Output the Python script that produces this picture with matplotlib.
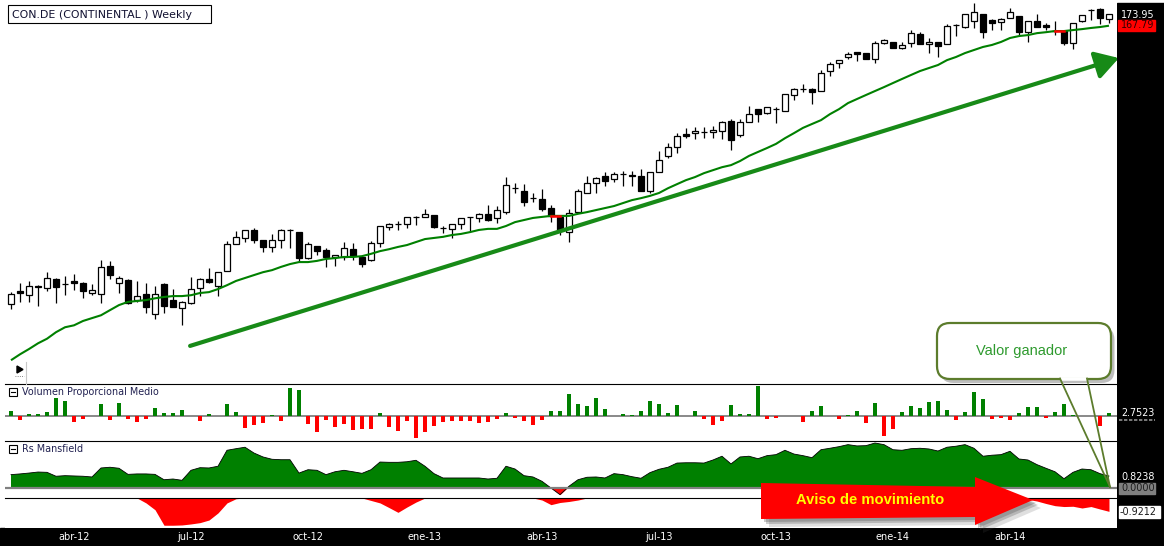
import numpy as np
import pandas as pd
import matplotlib
matplotlib.use('Agg')
import matplotlib.pyplot as plt
from matplotlib.patches import Rectangle, FancyBboxPatch, Polygon
from matplotlib.lines import Line2D
from matplotlib.transforms import Affine2D, blended_transform_factory
from matplotlib.ticker import NullLocator

# ---------------- data (weekly CON.DE) ----------------
first_week = '2012-02-13'

opens = [69.6, 72.6, 71.6, 73.7, 73.3, 75.4, 74.2, 74.9, 74.4, 72.1,
         71.8, 78.5, 74.4, 75.1, 70.5, 71.8, 67.4, 74.2, 70.5, 68.8,
         69.8, 73.3, 75.4, 73.7, 77.3, 84.2, 85.8, 88.0, 85.2, 83.4,
         85.2, 88.0, 87.4, 80.5, 83.6, 82.6, 80.8, 80.8, 82.8, 80.8,
         80.0, 84.4, 88.8, 89.7, 89.7, 91.7, 91.7, 92.3, 88.6, 88.3,
         89.7, 91.7, 91.4, 92.6, 91.4, 93.1, 100.4, 99.5, 97.3, 97.0,
         94.3, 91.7, 87.4, 93.1, 98.9, 102.1, 104.3, 103.4, 105.0, 104.7,
         104.3, 99.5, 105.7, 111.2, 114.4, 119.1, 119.5, 119.9, 119.9, 120.3,
         124.1, 118.8, 123.7, 128.9, 127.3, 128.9, 128.1, 134.8, 137.3, 137.3,
         136.5, 145.4, 149.1, 152.0, 154.4, 153.9, 151.0, 158.9, 159.4, 156.4,
         158.9, 163.4, 158.4, 159.4, 158.4, 168.2, 167.1, 170.3, 174.1, 170.9,
         169.8, 171.9, 173.0, 164.4, 170.3, 168.2, 165.0, 165.0, 158.9, 170.3,
         176.3, 176.9, 171.4]

highs = [72.3, 74.4, 74.9, 73.9, 77.0, 75.5, 76.1, 76.5, 74.6, 74.2,
         80.0, 79.8, 76.1, 75.4, 74.9, 74.4, 73.7, 74.4, 73.0, 70.2,
         75.8, 75.5, 78.0, 77.1, 84.9, 87.7, 88.1, 88.6, 85.3, 86.9,
         88.3, 88.4, 87.5, 84.7, 83.7, 83.1, 81.4, 84.7, 84.4, 80.9,
         84.9, 89.2, 90.0, 90.5, 91.8, 91.9, 94.0, 92.4, 89.1, 89.8,
         91.5, 91.8, 92.7, 95.2, 94.9, 104.0, 102.1, 101.7, 98.9, 100.1,
         95.2, 91.8, 94.0, 100.1, 104.3, 104.0, 105.7, 105.7, 106.0, 106.0,
         106.6, 105.8, 112.9, 115.8, 119.5, 121.5, 121.8, 121.8, 122.2, 124.1,
         124.9, 124.9, 130.2, 129.0, 129.9, 129.8, 135.3, 137.8, 139.5, 137.8,
         145.9, 149.6, 150.6, 154.4, 154.5, 154.0, 159.9, 160.9, 159.5, 159.4,
         165.5, 164.4, 161.4, 159.5, 168.7, 168.7, 174.2, 180.3, 174.2, 171.4,
         171.9, 177.4, 173.1, 170.4, 174.1, 169.2, 170.3, 165.1, 169.3, 173.7,
         176.9, 177.4, 174.1]

lows = [68.5, 70.1, 70.1, 69.2, 72.6, 69.8, 71.6, 72.8, 70.9, 71.6,
        69.8, 75.4, 72.1, 69.6, 70.1, 67.7, 66.4, 67.7, 68.9, 65.1,
        69.6, 71.4, 74.5, 71.4, 77.2, 84.1, 84.7, 84.4, 82.1, 82.1,
        83.1, 83.1, 79.5, 80.4, 81.3, 78.3, 78.5, 80.0, 80.0, 78.3,
        79.8, 83.4, 88.0, 88.0, 88.6, 89.4, 91.6, 88.6, 87.2, 85.8,
        88.3, 87.7, 90.2, 90.5, 90.0, 92.6, 98.9, 94.9, 96.1, 93.4,
        90.2, 86.6, 84.7, 93.0, 98.8, 98.9, 101.1, 102.4, 101.1, 101.1,
        99.4, 98.9, 105.6, 110.5, 112.2, 117.6, 117.3, 117.6, 117.6, 117.3,
        113.3, 118.0, 123.6, 123.7, 126.9, 123.3, 128.0, 132.7, 136.1, 131.0,
        136.4, 143.1, 146.8, 151.0, 150.0, 150.9, 149.1, 158.4, 156.3, 155.9,
        156.9, 158.3, 153.9, 152.0, 158.3, 162.4, 166.6, 166.6, 161.4, 165.5,
        165.5, 171.8, 162.9, 159.4, 167.0, 165.5, 162.9, 157.9, 155.9, 169.8,
        170.9, 168.7, 169.2]

closes = [71.8, 72.1, 73.7, 73.5, 75.6, 73.5, 74.1, 74.4, 72.6, 72.8,
          78.3, 76.3, 75.6, 69.8, 71.4, 69.0, 71.8, 69.2, 69.0, 70.1,
          73.0, 75.4, 74.6, 77.0, 84.2, 86.1, 88.0, 85.2, 83.4, 85.2,
          88.0, 88.1, 80.5, 84.2, 82.3, 80.8, 81.3, 83.1, 81.0, 79.0,
          84.4, 89.1, 89.7, 89.8, 91.7, 91.8, 92.6, 88.8, 88.5, 89.7,
          91.4, 91.7, 92.6, 90.8, 93.7, 101.4, 100.5, 96.1, 97.2, 94.0,
          92.0, 88.0, 92.9, 99.5, 102.1, 103.7, 102.7, 105.0, 105.1, 104.3,
          99.5, 105.7, 109.8, 114.4, 118.4, 118.4, 120.3, 120.0, 120.7, 123.7,
          116.9, 123.7, 126.9, 126.9, 129.8, 129.0, 135.2, 137.3, 137.4, 136.1,
          144.5, 148.6, 150.5, 153.4, 153.4, 151.0, 158.9, 160.4, 156.4, 157.9,
          163.9, 158.4, 159.4, 157.4, 167.6, 168.1, 174.1, 175.2, 164.4, 169.2,
          171.4, 175.2, 164.4, 170.3, 167.1, 167.1, 164.9, 158.9, 169.2, 173.6,
          176.2, 171.9, 173.95]

ma30 = [58.3, 59.4, 60.4, 61.5, 62.4, 63.7, 64.7, 65.1, 66.0, 66.6,
        67.2, 68.3, 69.4, 70.1, 70.3, 70.5, 70.9, 71.2, 71.4, 71.4,
        71.6, 72.1, 72.3, 73.0, 73.9, 74.9, 75.6, 76.3, 77.0, 77.5,
        78.3, 79.0, 79.5, 79.5, 79.8, 80.3, 80.5, 80.8, 80.8, 81.0,
        81.6, 82.3, 82.8, 83.4, 83.9, 84.7, 85.5, 85.8, 86.1, 86.6,
        86.9, 87.4, 88.0, 88.3, 88.3, 89.1, 90.2, 90.8, 91.4, 91.7,
        92.0, 92.0, 92.0, 92.6, 93.1, 93.7, 94.3, 94.9, 95.8, 96.7,
        97.3, 98.0, 98.9, 100.4, 101.7, 103.0, 104.0, 105.3, 106.3, 107.3,
        108.0, 109.4, 111.2, 112.6, 114.0, 115.5, 117.6, 119.5, 121.5, 123.0,
        124.5, 126.9, 128.9, 131.4, 133.1, 134.8, 136.5, 138.2, 140.0, 141.8,
        143.6, 145.4, 146.8, 148.2, 150.5, 152.0, 153.9, 155.4, 156.9, 157.9,
        159.4, 161.4, 162.4, 162.9, 163.9, 164.4, 165.0, 165.0, 165.5, 166.0,
        166.6, 167.1, 167.79]

ma_signal_weeks = [60, 116]   # weeks where the average is drawn red

volumen_prop = [0.57, -0.33, 0.23, 0.23, 0.43, 1.83, 1.57, -0.53, -0.23, 0.0,
                1.23, -0.33, 1.33, -0.23, -0.53, -0.23, 0.83, 0.33, 0.33, 0.63,
                0.0, -0.43, 0.23, 0.0, 1.23, 0.43, -1.13, -0.83, -0.63, 0.13,
                -0.43, 2.83, 2.67, -0.73, -1.53, -0.33, -1.03, -0.73, -1.33, -1.23,
                -1.23, 0.33, -1.03, -1.47, -0.47, -2.13, -1.57, -0.97, -0.57, -0.50,
                -0.47, -0.47, -0.67, -0.57, -0.23, 0.37, -0.13, -0.47, -0.83, -0.37,
                0.50, 0.50, 2.27, 1.20, 1.00, 1.83, 0.70, 0.0, 0.20, 0.10,
                0.50, 1.50, 1.20, 0.30, 1.10, 0.0, 0.50, -0.23, -0.83, -0.47,
                1.10, 0.20, 0.20, 3.00, -0.23, -0.13, 0.0, 0.0, -0.57, 0.50,
                1.00, 0.0, -0.23, 0.10, 0.50, -0.67, 1.30, -1.97, -1.23, 0.40,
                1.00, 0.80, 1.40, 1.50, 0.60, -0.37, 0.40, 2.40, 1.70, -0.23,
                -0.13, -0.37, 0.30, 0.90, 0.90, -0.13, 0.43, 1.20, 0.10, 0.0,
                0.0, -0.95, 0.30]

rs_mansfield = [0.92, 0.97, 1.03, 1.10, 1.08, 0.81, 0.85, 0.83, 0.81, 0.76,
                1.38, 1.43, 1.36, 0.94, 0.97, 0.97, 0.94, 0.57, 0.62, 0.53,
                1.22, 1.40, 1.38, 1.50, 2.60, 2.71, 2.81, 2.41, 2.14, 1.98,
                1.95, 1.95, 1.03, 1.26, 1.22, 0.92, 1.12, 1.22, 1.12, 1.01,
                1.26, 1.79, 1.77, 1.77, 1.81, 1.91, 1.50, 0.99, 0.69, 0.69,
                0.69, 0.69, 0.69, 0.62, 0.67, 1.50, 1.31, 0.85, 0.76, 0.46,
                0.00, -0.46, 0.12, 0.57, 0.74, 0.76, 0.69, 0.99, 0.92, 0.78,
                0.67, 1.06, 1.29, 1.43, 1.72, 1.74, 1.74, 1.72, 1.93, 2.19,
                1.66, 2.14, 2.19, 2.02, 2.23, 2.30, 2.60, 2.34, 2.23, 2.09,
                2.64, 2.74, 2.85, 2.99, 2.90, 2.92, 3.10, 2.99, 2.64, 2.60,
                2.71, 2.74, 2.69, 2.55, 2.81, 2.88, 2.99, 2.74, 2.19, 2.26,
                2.30, 2.53, 2.00, 1.93, 1.61, 1.36, 1.12, 0.64, 1.08, 1.31,
                1.26, 0.99, 0.8238]

rs_lower = [0, 0, 0, 0, 0, 0, 0, 0, 0, 0,
            0, 0, 0, 0, 0, -0.34, -0.81, -1.88, -1.88, -1.86,
            -1.79, -1.70, -1.52, -1.03, -0.34, -0.05, 0, 0, 0, 0,
            0, 0, 0, 0, 0, 0, 0, 0, 0, 0,
            -0.17, -0.34, -0.66, -0.99, -0.62, -0.28, 0, 0, 0, 0,
            0, 0, 0, 0, 0, 0, 0, 0, 0, -0.14,
            -0.46, -0.31, -0.24, -0.14, 0, 0, 0, 0, 0, 0,
            0, 0, 0, 0, 0, 0, 0, 0, 0, 0,
            0, 0, 0, 0, 0, 0, 0, 0, 0, 0,
            0, 0, 0, 0, 0, 0, 0, 0, 0, 0,
            0, 0, 0, 0, 0, 0, 0, 0, 0, 0,
            0, 0, -0.03, -0.10, -0.21, -0.38, -0.53, -0.59, -0.57, -0.69,
            -0.59, -0.76, -0.9212]

tick_months = ['2012-04-01', '2012-07-01', '2012-10-01', '2013-01-01', '2013-04-01',
               '2013-07-01', '2013-10-01', '2014-01-01', '2014-04-01']
tick_labels = ['abr-12', 'jul-12', 'oct-12', 'ene-13', 'abr-13',
               'jul-13', 'oct-13', 'ene-14', 'abr-14']

last_price_label = '173.95'
last_ma_label = '167.79'
vol_label = '2.7523'
rs_label = '0.8238'
zero_label = '0.0000'
rs_low_label = '-0.9212'

# ---------------- figure ----------------
W, H, DPI = 1164, 546, 100
fig = plt.figure(figsize=(W / DPI, H / DPI), dpi=DPI)
fig.patch.set_facecolor('white')
PX = Affine2D().scale(1, -1).translate(0, H)   # figure pixels, y from top

n = len(closes)
idx = np.arange(n)
dates = pd.date_range(first_week, periods=n, freq='W-MON')
XL = (-0.667, n - 0.11)
PL, PR = 5, 1117


def add_ax(y0, y1):
    ax = fig.add_axes([PL / W, 1 - y1 / H, (PR - PL) / W, (y1 - y0) / H])
    ax.set_facecolor('white')
    for s in ax.spines.values():
        s.set_visible(False)
    ax.set_xlim(*XL)
    return ax


def clean(ax):
    ax.tick_params(which='both', left=False, labelleft=False,
                   bottom=False, labelbottom=False)
    ax.xaxis.set_major_locator(NullLocator())
    ax.xaxis.set_minor_locator(NullLocator())
    ax.yaxis.set_major_locator(NullLocator())
    ax.yaxis.set_minor_locator(NullLocator())


def px_line(xs, ys, **kw):
    fig.add_artist(Line2D(xs, ys, transform=PX, **kw))


# black frame strips
fig.add_artist(Rectangle((PR, 3), W - PR, H - 3, transform=PX, color='black', zorder=-1))
fig.add_artist(Rectangle((0, 528), W, H - 528, transform=PX, color='black', zorder=-1))

# ---- price panel ----
ax_p = add_ax(0, 384)
ax_p.set_yscale('log')
ax_p.set_ylim(54.08, 182.0)
o = np.array(opens); c = np.array(closes); h = np.array(highs); l = np.array(lows)
up = c >= o
lo = np.minimum(o, c); hi = np.maximum(o, c)
ax_p.vlines(idx, l, h, color='black', lw=0.9, zorder=2)
ax_p.bar(idx, hi - lo, bottom=lo, width=0.72,
         color=np.where(up, 'white', 'black'), edgecolor='black', linewidth=0.9, zorder=3)
ax_p.plot(idx, ma30, color='#008000', lw=1.5, zorder=4, solid_capstyle='butt')
for i in ma_signal_weeks:
    ax_p.plot([i, i + 1], [ma30[i], ma30[i + 1]], color='#ff0000', lw=1.8, zorder=5)
ann = ax_p.annotate('', xy=(n + 0.1, 151.5), xytext=(19.9, 61.0),
                    arrowprops=dict(arrowstyle='-|>,head_length=0.7,head_width=0.42',
                                    mutation_scale=20, color='#178a17', lw=3.0,
                                    shrinkA=0, shrinkB=0),
                    annotation_clip=False, zorder=6)
ann.arrow_patch.set_clip_on(False)
clean(ax_p)

# ---- volume panel ----
ax_v = add_ax(384, 441)
ax_v.set_ylim(-2.47, 3.23)
vol = np.array(volumen_prop)
ax_v.bar(idx, vol, width=0.5, color=np.where(vol >= 0, '#008000', '#ff0000'), lw=0, zorder=2)
ax_v.axhline(0, color='#808080', lw=1.3, zorder=1)
clean(ax_v)

# ---- RS Mansfield panel ----
ax_r = add_ax(441, 498)
ax_r.set_ylim(-0.69, 3.24)
rs = np.array(rs_mansfield)
ax_r.fill_between(idx, rs, 0, where=rs >= 0, interpolate=True, color='#008000', lw=0, zorder=2)
ax_r.fill_between(idx, rs, 0, where=rs <= 0, interpolate=True, color='#ff0000', lw=0, zorder=2)
ax_r.plot(idx, rs, color='black', lw=0.6, zorder=3)
ax_r.axhline(0, color='#808080', lw=1.6, zorder=4)
clean(ax_r)

# ---- lower RS panel ----
ax_l = add_ax(498, 528)
ax_l.set_ylim(-2.07, 0)
ax_l.fill_between(idx, rs_lower, 0, color='#ff0000', lw=0, zorder=2)
clean(ax_l)

# separators
for yy in (384, 441, 498):
    px_line([PL, PR], [yy, yy], color='black', lw=0.8, zorder=5)

# x tick labels
trans = blended_transform_factory(ax_l.transData, PX)
for m, lab in zip(tick_months, tick_labels):
    ms = pd.Timestamp(m)
    pos = int(np.argmax((dates + pd.Timedelta(days=4)) >= ms))
    ax_l.text(pos, 537, lab, transform=trans, ha='center', va='center',
              color='white', fontsize=7, family='DejaVu Sans', clip_on=False)

# title box
fig.add_artist(Rectangle((8, 5), 203, 18, transform=PX, facecolor='white',
                         edgecolor='black', lw=0.8, zorder=6))
fig.text(12, 14.5, 'CON.DE (CONTINENTAL ) Weekly', transform=PX, ha='left', va='center',
         fontsize=7.9, color='#101030', family='DejaVu Sans', zorder=7)

# small play marker
fig.add_artist(Polygon([(17, 366), (17, 373), (23, 369.5)], closed=True, transform=PX,
                       color='black', zorder=6))
px_line([15, 24], [375.5, 375.5], color='#606060', lw=0.6, ls=':', zorder=6)
px_line([26, 26], [362, 384], color='#c8c8c8', lw=0.8, zorder=6)

# panel headers
for ytop, name in ((387.5, 'Volumen Proporcional Medio'), (445, 'Rs Mansfield')):
    fig.add_artist(Rectangle((8.5, ytop), 8, 8, transform=PX, facecolor='white',
                             edgecolor='black', lw=0.8, zorder=6))
    px_line([10.5, 14.5], [ytop + 4, ytop + 4], color='black', lw=0.8, zorder=7)
    fig.text(22.5, ytop + 4.2, name, transform=PX, ha='left', va='center',
             fontsize=6.9, color='#202050', family='DejaVu Sans', zorder=7)

# right side value labels
lab_kw = dict(transform=PX, ha='left', va='center', fontsize=6.9, family='DejaVu Sans', zorder=8)
fig.text(1121, 14.5, last_price_label, color='white', **lab_kw)
fig.add_artist(Rectangle((1118, 20), 37, 11, transform=PX, color='#ff0000', zorder=7))
fig.text(1121, 25.5, last_ma_label, color='#300000', **lab_kw)
fig.text(1121, 413, vol_label, color='white', **lab_kw)
px_line([1119, 1155], [420, 420], color='#909090', lw=1.2, ls=(0, (2, 1)), zorder=7)
fig.text(1121, 476.5, rs_label, color='white', **lab_kw)
fig.add_artist(Rectangle((1119, 483), 36, 10.5, transform=PX, color='#7f7f7f', zorder=7))
fig.text(1121, 488.3, zero_label, color='#1a1a1a', **lab_kw)
fig.add_artist(Rectangle((1119, 506), 41, 11.5, transform=PX, color='white', zorder=7))
fig.text(1120, 511.8, rs_low_label, color='#1a1a1a', **lab_kw)

# "Valor ganador" callout
fig.add_artist(FancyBboxPatch((940.5, 327), 174, 56, boxstyle='round,pad=0,rounding_size=13',
                              transform=PX, facecolor='#8a8a8a', edgecolor='none',
                              alpha=0.55, zorder=9))
fig.add_artist(FancyBboxPatch((937, 323), 174, 56, boxstyle='round,pad=0,rounding_size=13',
                              transform=PX, facecolor='white', edgecolor='#5c7c2c',
                              lw=1.6, zorder=10))
px_line([1061.5, 1085.5], [379, 379], color='white', lw=2.6, zorder=11)
px_line([1060, 1110], [378.5, 487], color='#5c7c2c', lw=1.3, zorder=11)
px_line([1087, 1110], [378.5, 487], color='#5c7c2c', lw=1.3, zorder=11)
fig.text(1022, 351, 'Valor ganador', transform=PX, ha='center', va='center',
         fontsize=10.5, color='#2e9a2e', family='Liberation Sans', zorder=12)

# "Aviso de movimiento" arrow
arrow_pts = [(761, 483), (975, 487), (975, 477), (1033, 500), (975, 525), (975, 517), (761, 519)]
for off, a in ((8, 0.18), (5, 0.28), (3, 0.3)):
    fig.add_artist(Polygon([(x + off, y + off) for x, y in arrow_pts], closed=True,
                           transform=PX, facecolor='#505050', edgecolor='none',
                           alpha=a, zorder=9))
fig.add_artist(Polygon(arrow_pts, closed=True, transform=PX, facecolor='#ff0000',
                       edgecolor='none', zorder=10))
fig.text(870, 500.5, 'Aviso de movimiento', transform=PX, ha='center', va='center',
         fontsize=10.6, color='#ffff00', fontweight='bold', family='Liberation Sans', zorder=12)

fig.savefig('out.png', dpi=DPI)
